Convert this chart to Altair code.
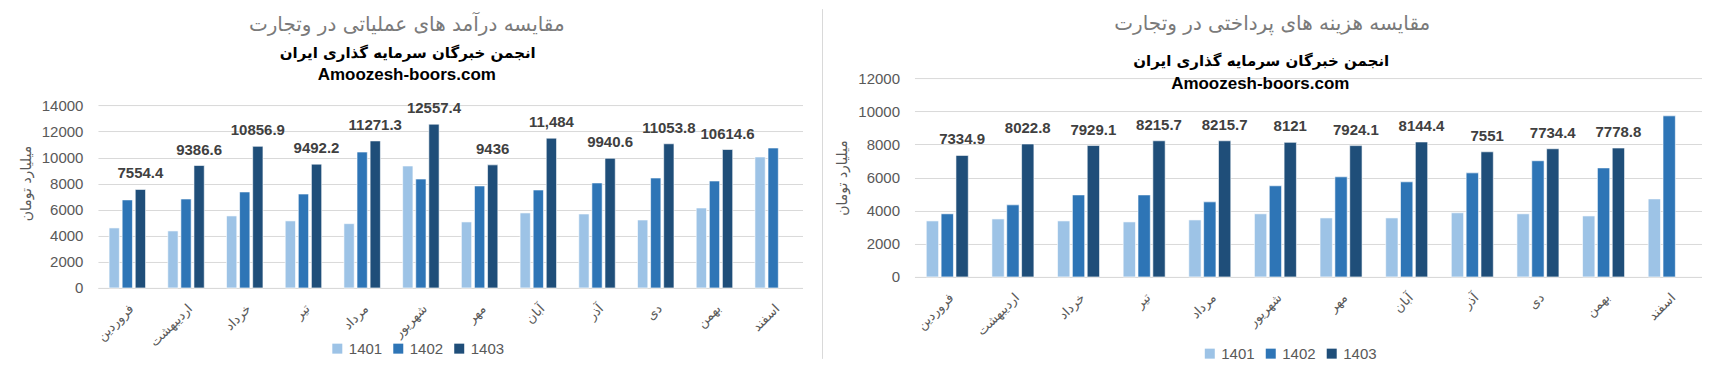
import altair as alt
import pandas as pd

months = ["فروردین", "اردیبهشت", "خرداد", "تیر", "مرداد", "شهریور",
          "مهر", "آبان", "آذر", "دی", "بهمن", "اسفند"]
years = ["1401", "1402", "1403"]
colors = ["#9dc3e6", "#2e75b6", "#1f4e79"]

rev_1401 = [4600, 4370, 5520, 5140, 4930, 9350, 5060, 5750, 5670, 5210, 6130, 10040]
rev_1402 = [6750, 6820, 7360, 7200, 10420, 8350, 7820, 7510, 8050, 8430, 8200, 10730]
rev_1403 = [7554.4, 9386.6, 10856.9, 9492.2, 11271.3, 12557.4, 9436, 11484, 9940.6, 11053.8, 10614.6, None]
rev_labels = ["7554.4", "9386.6", "10856.9", "9492.2", "11271.3", "12557.4",
              "9436", "11,484", "9940.6", "11053.8", "10614.6", ""]

cost_1401 = [3380, 3500, 3380, 3320, 3440, 3810, 3560, 3560, 3870, 3810, 3680, 4710]
cost_1402 = [3810, 4350, 4950, 4950, 4530, 5500, 6040, 5740, 6280, 7010, 6580, 9720]
cost_1403 = [7334.9, 8022.8, 7929.1, 8215.7, 8215.7, 8121, 7924.1, 8144.4, 7551, 7734.4, 7778.8, None]
cost_labels = ["7334.9", "8022.8", "7929.1", "8215.7", "8215.7", "8121",
               "7924.1", "8144.4", "7551", "7734.4", "7778.8", ""]

rev_ticks = [0, 2000, 4000, 6000, 8000, 10000, 12000, 14000]
cost_ticks = [0, 2000, 4000, 6000, 8000, 10000, 12000]

title_rev = "مقایسه درآمد های عملیاتی در وتجارت"
title_cost = "مقایسه هزینه های پرداختی در وتجارت"
subtitle1 = "انجمن خبرگان سرمایه گذاری ایران"
subtitle2 = "Amoozesh-boors.com"
y_title = "میلیارد تومان"

FA = "DejaVu Sans"
LAT = "Liberation Sans, DejaVu Sans"
GRAY = "#595959"


def long_df(a, b, c):
    rows = []
    for yr, vals in zip(years, [a, b, c]):
        for m, v in zip(months, vals):
            if v is not None:
                rows.append({"month": m, "year": yr, "value": v})
    return pd.DataFrame(rows)


def label_df(vals, labels):
    rows = []
    for m, v, l in zip(months, vals, labels):
        if v is not None and l:
            rows.append({"month": m, "year": "1403", "value": v, "label": l})
    return pd.DataFrame(rows)


def text_layer(txt, x, y, size, weight, color, font):
    return alt.Chart(alt.Data(values=[{"k": 1}])).mark_text(
        fontSize=size, fontWeight=weight, color=color, font=font,
        align="center", baseline="middle"
    ).encode(x=alt.value(x), y=alt.value(y), text=alt.value(txt))


def panel(df, ldf, ymax, ticks, width, height, pi, pi2, titles, legend_xy, extra=None):
    x = alt.X("month:N", sort=months,
              scale=alt.Scale(paddingInner=pi, paddingOuter=pi / 2),
              axis=alt.Axis(title=None, labelAngle=-45, labelAlign="right",
                            labelBaseline="top", labelFontSize=13, labelFont=FA,
                            labelColor=GRAY, labelPadding=14, ticks=False,
                            domainColor="#d9d9d9", labelOverlap=False))
    y = alt.Y("value:Q", scale=alt.Scale(domain=[0, ymax], nice=False, zero=True),
              axis=alt.Axis(values=ticks, format="d", title=y_title, grid=True,
                            gridColor="#d9d9d9", domain=False, ticks=False,
                            labelPadding=15, labelFontSize=15, labelFont=LAT,
                            labelColor=GRAY, titleFontSize=14, titleFont=FA,
                            titleColor=GRAY, titleFontWeight="normal",
                            titlePadding=8))
    xo = alt.XOffset("year:N", scale=alt.Scale(domain=years, paddingInner=pi2, paddingOuter=0))
    bars = alt.Chart(df).mark_bar(stroke="white", strokeWidth=0.6).encode(
        x=x, y=y, xOffset=xo,
        color=alt.Color("year:N", scale=alt.Scale(domain=years, range=colors),
                        legend=alt.Legend(orient="none", legendX=legend_xy[0],
                                          legendY=legend_xy[1], direction="horizontal",
                                          title=None, symbolType="square",
                                          symbolSize=100, symbolStrokeWidth=0,
                                          labelFontSize=15, labelFont=LAT,
                                          labelColor=GRAY, columnPadding=8,
                                          labelOffset=4, padding=0)))
    labels = alt.Chart(ldf).mark_text(
        dy=-8, baseline="bottom", fontSize=15, fontWeight="bold",
        color="#404040", font=LAT
    ).encode(x=x, y=y, xOffset=xo, text="label:N")
    layers = [bars, labels]
    t, s1, s2 = titles
    layers.append(text_layer(title_rev if t[3] == "rev" else title_cost, t[0], t[1], 20, "normal", "#7a7a7a", FA))
    layers.append(text_layer(subtitle1, s1[0], s1[1], 15, "bold", "#000000", FA))
    layers.append(text_layer(subtitle2, s2[0], s2[1], 17, "bold", "#000000", LAT))
    if extra:
        layers.extend(extra)
    return alt.layer(*layers).properties(width=width, height=height)


rev_df = long_df(rev_1401, rev_1402, rev_1403)
cost_df = long_df(cost_1401, cost_1402, cost_1403)

divider = alt.Chart(alt.Data(values=[{"k": 1}])).mark_rule(color="#d9d9d9", strokeWidth=1).encode(
    x=alt.value(725), y=alt.value(-69), y2=alt.value(281))
anchor = alt.Chart(alt.Data(values=[{"k": 1}])).mark_point(opacity=0, size=1).encode(
    x=alt.value(-89), y=alt.value(0))

left = panel(rev_df, label_df(rev_1403, rev_labels), 16092, rev_ticks, 705, 210,
             0.379, 0.214,
             [(309, -53, 0, "rev"), (310, -25), (309, -3)], (232, 263),
             extra=[divider, anchor])
right = panel(cost_df, label_df(cost_1403, cost_labels), 12000, cost_ticks, 788, 199,
              0.36, 0.17,
              [(358, -54, 0, "cost"), (347, -17), (346, 6)], (288, 268))

chart = alt.hconcat(left, right, spacing=112, bounds="flush").resolve_scale(
    x="independent", y="independent", color="independent", xOffset="independent"
).resolve_legend(color="independent").properties(
    padding=0
).configure_view(strokeWidth=0)

chart.save("out.html", embed_options={"renderer": "svg", "actions": False})
